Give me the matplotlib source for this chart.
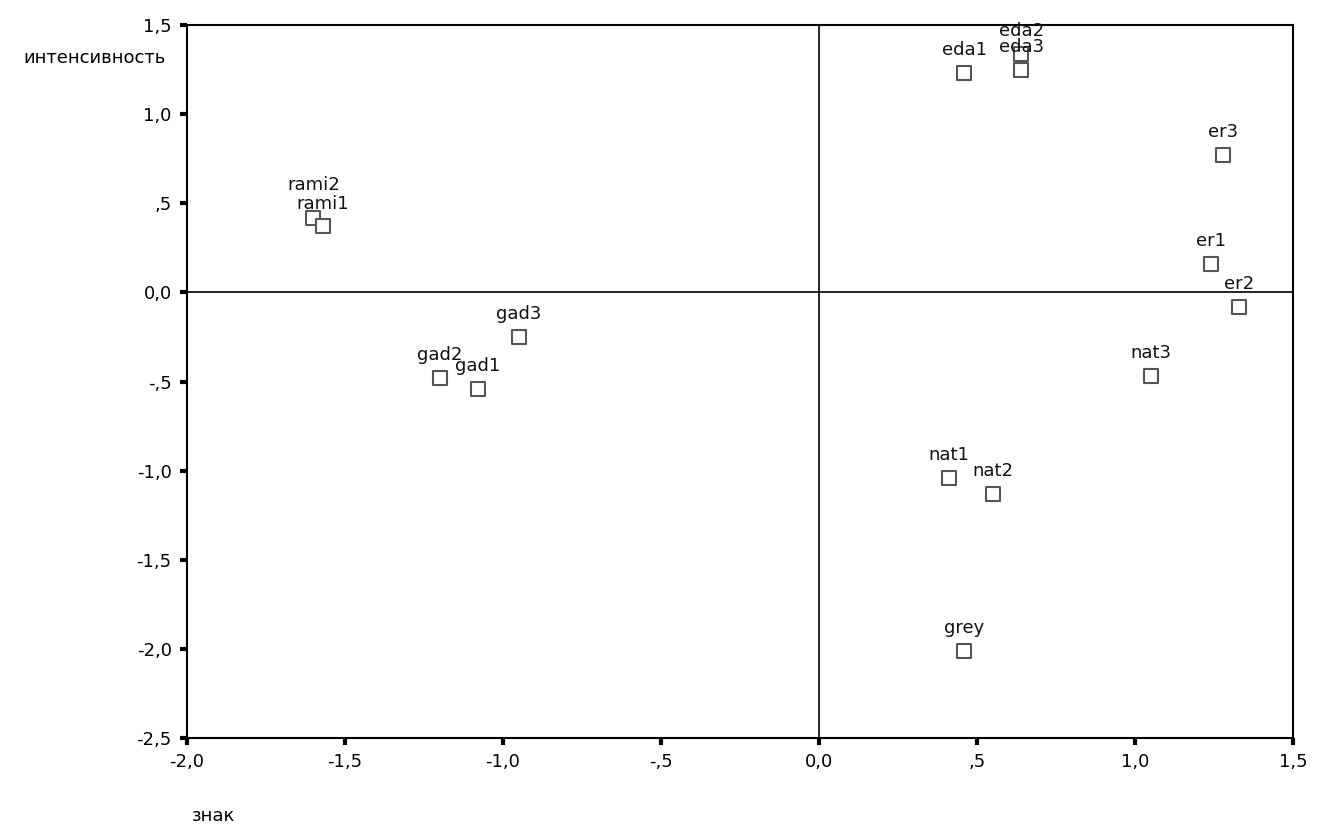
import matplotlib
matplotlib.use('Agg')
import matplotlib.pyplot as plt
from matplotlib.ticker import FuncFormatter

plt.rcParams['font.family'] = ['DejaVu Sans']

labels = ['rami2', 'rami1', 'gad3', 'gad2', 'gad1', 'eda1', 'eda2', 'eda3',
          'er3', 'er1', 'er2', 'nat3', 'nat1', 'nat2', 'grey']
znak = [-1.60, -1.57, -0.95, -1.20, -1.08, 0.46, 0.64, 0.64,
        1.28, 1.24, 1.33, 1.05, 0.41, 0.55, 0.46]
intens = [0.42, 0.37, -0.25, -0.48, -0.54, 1.23, 1.34, 1.25,
          0.77, 0.16, -0.08, -0.47, -1.04, -1.13, -2.01]

x_ticks = [-2.0, -1.5, -1.0, -0.5, 0.0, 0.5, 1.0, 1.5]
y_ticks = [-2.5, -2.0, -1.5, -1.0, -0.5, 0.0, 0.5, 1.0, 1.5]


def comma_fmt(v, pos):
    s = '%.1f' % v
    if s in ('0.0', '-0.0'):
        return '0,0'
    if abs(v) < 1:
        s = s.replace('0.', '.')
    return s.replace('.', ',')


fig = plt.figure(figsize=(13.23, 8.31), dpi=100)
ax = fig.add_axes([0.1413, 0.1119, 0.836, 0.858])

ax.axhline(0, color='black', lw=1.2, zorder=1)
ax.axvline(0, color='black', lw=1.2, zorder=1)

ax.scatter(znak, intens, marker='s', s=90, facecolors='white',
           edgecolors='#555555', linewidths=1.5, zorder=3)
for name, x, y in zip(labels, znak, intens):
    # rami2 label lifted a little so it does not sit on rami1
    dy = 17 if name == 'rami2' else 10
    ax.annotate(name, (x, y), xytext=(0, dy), textcoords='offset points',
                ha='center', va='bottom', fontsize=13, color='#111111')

ax.set_xlim(-2.0, 1.5)
ax.set_ylim(-2.5, 1.5)
ax.set_xticks(x_ticks)
ax.set_yticks(y_ticks)
ax.xaxis.set_major_formatter(FuncFormatter(comma_fmt))
ax.yaxis.set_major_formatter(FuncFormatter(comma_fmt))
ax.tick_params(axis='both', direction='out', length=5, width=3,
               labelsize=13, colors='black', pad=6)
for sp in ax.spines.values():
    sp.set_linewidth(1.5)

fig.text(95 / 1323, 1 - 58 / 831, 'интенсивность', ha='center', va='center',
         fontsize=13)
fig.text(214 / 1323, 1 - 816 / 831, 'знак', ha='center', va='center',
         fontsize=13)

fig.savefig('out.png', dpi=100)
